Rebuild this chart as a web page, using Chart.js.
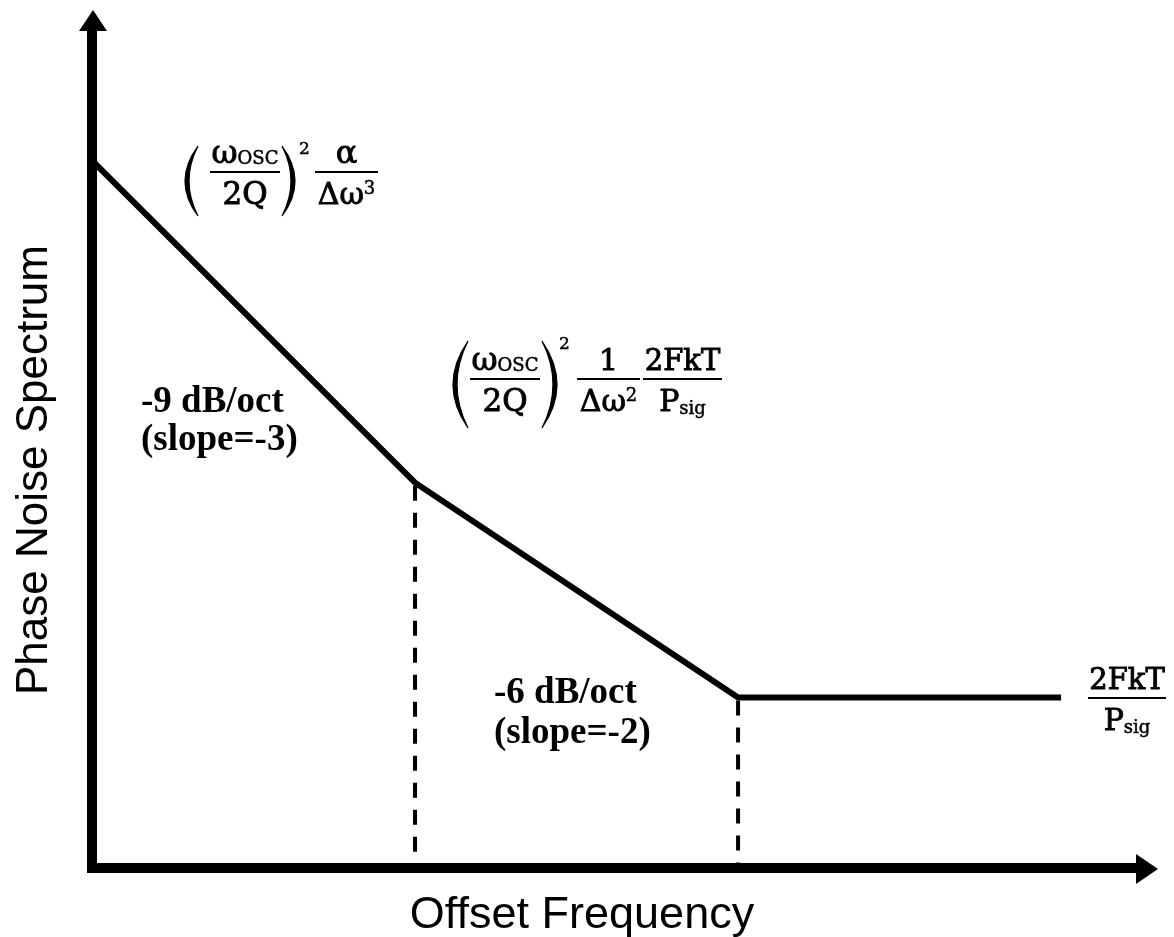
<!DOCTYPE html>
<html>
<head>
<meta charset="utf-8">
<script src="https://cdn.jsdelivr.net/npm/chart.js@4.4.1/dist/chart.umd.min.js"></script>
<style>
  html, body { margin: 0; padding: 0; background: #ffffff; }
  #wrap { width: 1174px; height: 937px; }
</style>
</head>
<body>
<div id="wrap"><canvas id="c" width="1174" height="937"></canvas></div>
<script>
// Offset frequency in octaves from the origin, and phase noise in dB above the thermal floor.
const octaves = [0, 5, 10, 15];
const noiseDb = [75, 30, 0, 0];
// Corner frequencies where the slope changes (octaves).
const cornerOctaves = [5, 10];
// Visible axis ranges.
const xRange = [0, 16.5];
const yRange = [-23.8, 96];
// Texts.
const xTitle = 'Offset Frequency';
const yTitle = 'Phase Noise Spectrum';
const slopeLabels = [
  ['-9 dB/oct', '(slope=-3)'],
  ['-6 dB/oct', '(slope=-2)']
];

const BLACK = '#000000';
const MATH_FONT = '"DejaVu Serif", "Liberation Serif", serif';

const mainLine = octaves.map((x, i) => ({ x: x, y: noiseDb[i] }));
const cornerLines = cornerOctaves.map(c => {
  const level = noiseDb[octaves.indexOf(c)];
  return [{ x: c, y: level }, { x: c, y: yRange[0] }];
});

// ---- small helpers for the formula annotations ----
function fontOf(size) { return size + 'px ' + MATH_FONT; }

function runWidth(ctx, parts) {
  let w = 0;
  for (const p of parts) { ctx.font = fontOf(p.s); w += ctx.measureText(p.t).width; }
  return w;
}

function drawRun(ctx, parts, x, baseline) {
  for (const p of parts) {
    ctx.font = fontOf(p.s);
    ctx.lineWidth = p.s > 20 ? 0.9 : 0.5;
    ctx.fillText(p.t, x, baseline + (p.dy || 0));
    ctx.strokeText(p.t, x, baseline + (p.dy || 0));
    x += ctx.measureText(p.t).width;
  }
}

function fraction(ctx, x0, x1, barY, num, den) {
  ctx.fillRect(x0, barY - 1, x1 - x0, 2);
  const cx = (x0 + x1) / 2;
  drawRun(ctx, num, cx - runWidth(ctx, num) / 2, barY - 9);
  drawRun(ctx, den, cx - runWidth(ctx, den) / 2, barY + 32);
}

function paren(ctx, xEnd, xBulge, top, bottom, thick) {
  const mid = (top + bottom) / 2;
  const dir = Math.sign(xEnd - xBulge);
  const cOuter = 2 * xBulge - xEnd;
  const cInner = 2 * (xBulge + dir * thick) - xEnd;
  ctx.beginPath();
  ctx.moveTo(xEnd, top);
  ctx.quadraticCurveTo(cOuter, mid, xEnd, bottom);
  ctx.quadraticCurveTo(cInner, mid, xEnd, top);
  ctx.closePath();
  ctx.fill();
  ctx.lineWidth = 1.2;
  ctx.stroke();
}

const omegaOsc = [{ t: 'ω', s: 32 }, { t: 'OSC', s: 18, dy: 1 }];
const twoQ = [{ t: '2Q', s: 31 }];
const twoFkT = [{ t: '2FkT', s: 29 }];
const pSig = [{ t: 'P', s: 30 }, { t: 'sig', s: 18, dy: 3 }];

// Axes with arrow heads, drawn over the data lines.
const axesPlugin = {
  id: 'arrowAxes',
  afterDatasetsDraw(chart) {
    const ctx = chart.ctx;
    const a = chart.chartArea;
    const ax = a.left, ay = a.bottom;
    ctx.save();
    ctx.fillStyle = BLACK;
    // vertical axis
    ctx.fillRect(ax - 5, a.top + 19, 10, ay + 5 - (a.top + 19));
    ctx.beginPath();
    ctx.moveTo(ax + 1, a.top);
    ctx.lineTo(ax + 15, a.top + 21);
    ctx.lineTo(ax - 13, a.top + 21);
    ctx.closePath();
    ctx.fill();
    // horizontal axis
    ctx.fillRect(ax - 5, ay - 5, a.right - 20 - (ax - 5), 10);
    ctx.beginPath();
    ctx.moveTo(a.right, ay + 1);
    ctx.lineTo(a.right - 22, ay - 14);
    ctx.lineTo(a.right - 22, ay + 16);
    ctx.closePath();
    ctx.fill();
    ctx.restore();
  },
  afterDraw(chart) {
    const ctx = chart.ctx;
    ctx.save();
    ctx.fillStyle = BLACK;
    ctx.strokeStyle = BLACK;
    ctx.textBaseline = 'alphabetic';

    // axis titles
    ctx.font = '45px "Liberation Sans", Arial, sans-serif';
    ctx.textAlign = 'center';
    ctx.fillText(xTitle, 582, 928);
    ctx.font = '44px "Liberation Sans", Arial, sans-serif';
    ctx.save();
    ctx.translate(47, 470);
    ctx.rotate(-Math.PI / 2);
    ctx.fillText(yTitle, 0, 0);
    ctx.restore();

    // slope labels
    ctx.textAlign = 'left';
    ctx.font = 'bold 37px "Liberation Serif", "Times New Roman", serif';
    ctx.fillText(slopeLabels[0][0], 141, 412);
    ctx.fillText(slopeLabels[0][1], 141, 450);
    ctx.fillText(slopeLabels[1][0], 494, 703);
    ctx.fillText(slopeLabels[1][1], 494, 743);

    // (ω_OSC / 2Q)^2 · α / Δω^3
    paren(ctx, 198, 185, 146, 216, 4);
    fraction(ctx, 210, 280, 172, omegaOsc, twoQ);
    paren(ctx, 282, 295, 146, 216, 4);
    drawRun(ctx, [{ t: '2', s: 17 }], 299, 154);
    fraction(ctx, 315, 378, 172, [{ t: 'α', s: 32 }],
      [{ t: 'Δω', s: 30 }, { t: '3', s: 18, dy: -10 }]);

    // (ω_OSC / 2Q)^2 · 1 / Δω^2 · 2FkT / P_sig
    paren(ctx, 468, 453, 341, 428, 4);
    fraction(ctx, 470, 540, 379, omegaOsc, twoQ);
    paren(ctx, 542, 557, 341, 428, 4);
    drawRun(ctx, [{ t: '2', s: 17 }], 559, 349);
    fraction(ctx, 577, 640, 379, [{ t: '1', s: 30 }],
      [{ t: 'Δω', s: 30 }, { t: '2', s: 18, dy: -10 }]);
    fraction(ctx, 643, 722, 379, twoFkT, pSig);

    // thermal floor: 2FkT / P_sig
    fraction(ctx, 1088, 1166, 698, twoFkT, pSig);

    ctx.restore();
  }
};

new Chart(document.getElementById('c'), {
  type: 'scatter',
  data: {
    datasets: [
      {
        data: mainLine,
        showLine: true,
        borderColor: BLACK,
        borderWidth: 6,
        borderJoinStyle: 'miter',
        borderCapStyle: 'butt',
        pointRadius: 0,
        tension: 0
      },
      ...cornerLines.map(pts => ({
        data: pts,
        showLine: true,
        borderColor: BLACK,
        borderWidth: 4,
        borderDash: [15, 12],
        borderDashOffset: -3,
        pointRadius: 0,
        tension: 0
      }))
    ]
  },
  options: {
    responsive: false,
    animation: false,
    devicePixelRatio: 1,
    layout: { padding: { left: 92, right: 16, top: 10, bottom: 69 } },
    plugins: { legend: { display: false }, tooltip: { enabled: false } },
    scales: {
      x: { type: 'linear', min: xRange[0], max: xRange[1], display: false },
      y: { type: 'linear', min: yRange[0], max: yRange[1], display: false }
    }
  },
  plugins: [axesPlugin]
});
</script>
</body>
</html>
